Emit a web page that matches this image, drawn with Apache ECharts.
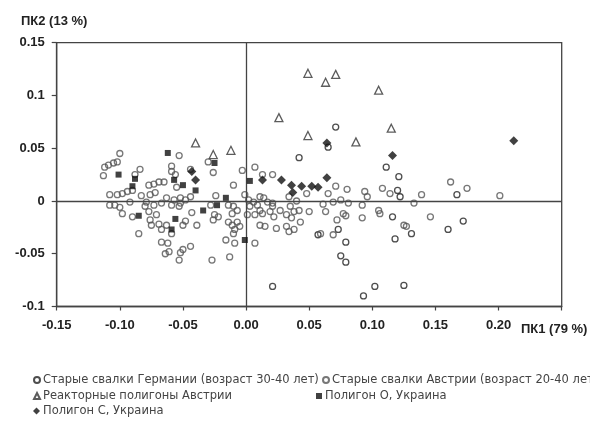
<!DOCTYPE html>
<html><head><meta charset="utf-8">
<script src="https://cdn.jsdelivr.net/npm/echarts@6/dist/echarts.min.js"></script>
<style>html,body{margin:0;padding:0;background:#fff}#c{width:590px;height:421px}</style>
</head><body><div id="c"></div>
<script>
const seriesNames = [
  'Старые свалки Германии (возраст 30-40 лет)',
  'Старые свалки Австрии (возраст 20-40 лет)',
  'Реакторные полигоны Австрии',
  'Полигон О, Украина',
  'Полигон С, Украина'
];
const xTicks = ['-0.15','-0.10','-0.05','0.00','0.05','0.10','0.15','0.20',''];
const yTicks = ['-0.1','-0.05','0','0.05','0.1','0.15'];

const germanyPts = [
  [0.118,-0.036],[0.075,-0.052],[0.079,-0.058],[0.102,-0.081],[0.093,-0.090],[0.125,-0.080],
  [0.167,0.006],[0.160,-0.027],[0.172,-0.019],[0.111,0.032],[0.121,0.023],[0.120,0.010],
  [0.122,0.004],[0.071,0.070],[0.065,0.051],[0.042,0.041],[0.021,-0.081],[0.116,-0.015],
  [0.131,-0.031],[0.057,-0.032],[0.073,-0.027],[0.079,-0.039]
];
const austriaPts = [
  [-0.100,0.045],[-0.102,0.037],[-0.105,0.036],[-0.109,0.034],[-0.112,0.032],[-0.113,0.024],
  [-0.084,0.030],[-0.088,0.025],[-0.077,0.015],[-0.073,0.016],[-0.069,0.018],[-0.065,0.018],
  [-0.072,0.008],[-0.083,0.005],[-0.090,0.010],[-0.094,0.009],[-0.098,0.007],[-0.102,0.006],
  [-0.108,0.006],[-0.108,-0.004],[-0.104,-0.004],[-0.100,-0.006],[-0.098,-0.012],[-0.092,-0.001],
  [-0.079,-0.001],[-0.080,-0.005],[-0.073,-0.004],[-0.067,-0.002],[-0.077,-0.010],[-0.071,-0.013],
  [-0.090,-0.015],[-0.076,-0.018],[-0.075,-0.023],[-0.069,-0.022],[-0.067,-0.027],[-0.063,-0.023],
  [-0.085,-0.031],[-0.067,-0.039],[-0.062,-0.040],[-0.064,-0.050],[-0.061,-0.048],[-0.076,0.006],
  [-0.063,0.003],[-0.053,0.043],[-0.059,0.033],[-0.059,0.028],[-0.056,0.025],[-0.044,0.030],
  [-0.026,0.027],[-0.030,0.037],[-0.010,0.015],[-0.003,0.029],[-0.024,0.005],[-0.055,0.013],
  [-0.057,0.001],[-0.052,0.003],[-0.052,-0.002],[-0.048,0.001],[-0.044,0.004],[-0.059,-0.004],
  [-0.053,-0.005],[-0.043,-0.011],[-0.028,-0.004],[-0.025,-0.013],[-0.026,-0.018],[-0.022,-0.015],
  [-0.014,-0.004],[-0.010,-0.005],[-0.007,-0.009],[-0.011,-0.012],[-0.014,-0.020],[-0.011,-0.023],
  [-0.007,-0.020],[-0.009,-0.027],[-0.005,-0.024],[-0.010,-0.031],[-0.048,-0.019],[-0.050,-0.023],
  [-0.039,-0.023],[-0.059,-0.031],[-0.044,-0.043],[-0.050,-0.046],[-0.052,-0.049],[-0.016,-0.037],
  [-0.009,-0.040],[-0.013,-0.053],[-0.027,-0.056],[-0.053,-0.056],[0.007,-0.040],[0.007,0.032],
  [0.013,0.025],[0.021,0.025],[0.034,0.004],[0.040,0.000],[0.048,0.007],[-0.001,0.006],
  [0.002,0.001],[0.006,-0.001],[0.003,-0.005],[0.009,-0.004],[0.011,0.004],[0.014,0.003],
  [0.017,-0.001],[0.021,-0.002],[0.021,-0.005],[0.001,-0.013],[0.007,-0.013],[0.013,-0.012],
  [0.011,-0.009],[0.019,-0.010],[0.022,-0.015],[0.027,-0.009],[0.035,-0.005],[0.038,-0.010],
  [0.032,-0.013],[0.036,-0.016],[0.032,-0.024],[0.050,-0.010],[0.043,-0.020],[0.011,-0.023],
  [0.015,-0.024],[0.024,-0.026],[0.034,-0.029],[0.038,-0.027],[0.042,-0.009],[0.071,0.014],
  [0.065,0.007],[0.080,0.011],[0.094,0.009],[0.096,0.004],[0.108,0.012],[0.114,0.007],
  [0.139,0.006],[0.133,-0.002],[0.061,-0.003],[0.063,-0.010],[0.069,-0.001],[0.075,0.001],
  [0.081,-0.002],[0.092,-0.004],[0.105,-0.009],[0.106,-0.012],[0.077,-0.012],[0.079,-0.014],
  [0.092,-0.016],[0.072,-0.018],[0.059,-0.031],[0.069,-0.032],[0.125,-0.023],[0.127,-0.024],
  [0.162,0.018],[0.175,0.012],[0.201,0.005],[0.146,-0.015]
];
const reactorPts = [
  [-0.040,0.055],[-0.026,0.044],[-0.012,0.048],[0.026,0.079],[0.049,0.121],[0.063,0.1125],
  [0.071,0.120],[0.105,0.105],[0.049,0.062],[0.087,0.056],[0.115,0.069]
];
const polygonOPts = [
  [-0.062,0.0455],[-0.101,0.025],[-0.088,0.021],[-0.090,0.014],[-0.085,-0.014],[-0.056,-0.017],
  [-0.059,-0.027],[-0.057,0.020],[-0.050,0.015],[-0.040,0.010],[-0.034,-0.009],[-0.023,-0.004],
  [-0.016,0.003],[0.003,0.019],[-0.001,-0.037],[-0.025,0.036]
];
const polygonCPts = [
  [0.212,0.057],[0.116,0.043],[0.064,0.055],[0.064,0.022],[0.028,0.020],[0.013,0.020],
  [0.036,0.015],[0.037,0.008],[0.044,0.014],[0.052,0.014],[0.057,0.013],[-0.043,0.028],[-0.040,0.020]
];

const FONT = 'Liberation Sans, Arial, sans-serif';
const LFONT = 'DejaVu Sans, sans-serif';
const chart = echarts.init(document.getElementById('c'), null, {renderer:'canvas'});
const hollow = c => ({color:'rgba(0,0,0,0)', borderColor:c, borderWidth:1.3});
const legendPos = [
  {left:33, top:374}, {left:322, top:374},
  {left:33, top:390}, {left:316, top:390},
  {left:33, top:405}
];
const option = {
  animation:false,
  backgroundColor:'#fff',
  title:[
    {text:'ПК2 (13 %)', left:16, top:10, textStyle:{fontFamily:FONT, fontSize:13, fontWeight:'bold', color:'#222'}},
    {text:'ПК1 (79 %)', left:516, top:318, textStyle:{fontFamily:FONT, fontSize:13, fontWeight:'bold', color:'#222'}}
  ],
  legend: seriesNames.map((n,i)=>({
    data:[n], left:legendPos[i].left, top:legendPos[i].top, padding:0,
    itemWidth: i===4?7:6, itemHeight: i===4?7:6, itemGap:0,
    textStyle:{fontFamily:LFONT, fontSize:11.5, color:'#444', padding:[0,0,0,-2]},
    selectedMode:false
  })),
  grid:{left:56.7, right:28.3, top:42.7, bottom:114.5, show:true, borderColor:'#444', borderWidth:1.3, backgroundColor:'transparent'},
  xAxis:{
    type:'value', min:-0.15, max:0.25, interval:0.05,
    axisLine:{onZero:false, lineStyle:{color:'#444', width:1.3}},
    axisTick:{show:true, length:4, lineStyle:{color:'#444', width:1.2}},
    splitLine:{show:false},
    axisLabel:{margin:12, fontFamily:FONT, fontSize:13, fontWeight:'bold', color:'#222',
      formatter:(v)=>{const i=Math.round((v+0.15)/0.05); return xTicks[i]===undefined?'':xTicks[i];}}
  },
  yAxis:{
    type:'value', min:-0.1, max:0.15, interval:0.05,
    axisLine:{onZero:false, lineStyle:{color:'#444', width:1.3}},
    axisTick:{show:true, length:5, lineStyle:{color:'#444', width:1.2}},
    splitLine:{show:false},
    axisLabel:{margin:12, fontFamily:FONT, fontSize:13, fontWeight:'bold', color:'#222',
      formatter:(v)=>{const i=Math.round((v+0.1)/0.05); return yTicks[i]===undefined?'':yTicks[i];}}
  },
  series:[
    {type:'scatter', name:'zero', data:[], silent:true, z:1,
     markLine:{silent:true, symbol:'none', animation:false, label:{show:false},
       lineStyle:{color:'#444', width:1.3, type:'solid'}, data:[{xAxis:0},{yAxis:0}]}},
    {type:'scatter', name:seriesNames[0], data:germanyPts, symbol:'circle', symbolSize:6, itemStyle:hollow('#222'), z:3},
    {type:'scatter', name:seriesNames[1], data:austriaPts, symbol:'circle', symbolSize:6, itemStyle:hollow('#555'), z:3},
    {type:'scatter', name:seriesNames[2], data:reactorPts, symbol:'triangle', symbolSize:8, itemStyle:hollow('#333'), z:4},
    {type:'scatter', name:seriesNames[3], data:polygonOPts, symbol:'rect', symbolSize:6, itemStyle:{color:'#111'}, z:5},
    {type:'scatter', name:seriesNames[4], data:polygonCPts, symbol:'diamond', symbolSize:9, itemStyle:{color:'#111'}, z:5}
  ]
};
chart.setOption(option);
</script></body></html>
